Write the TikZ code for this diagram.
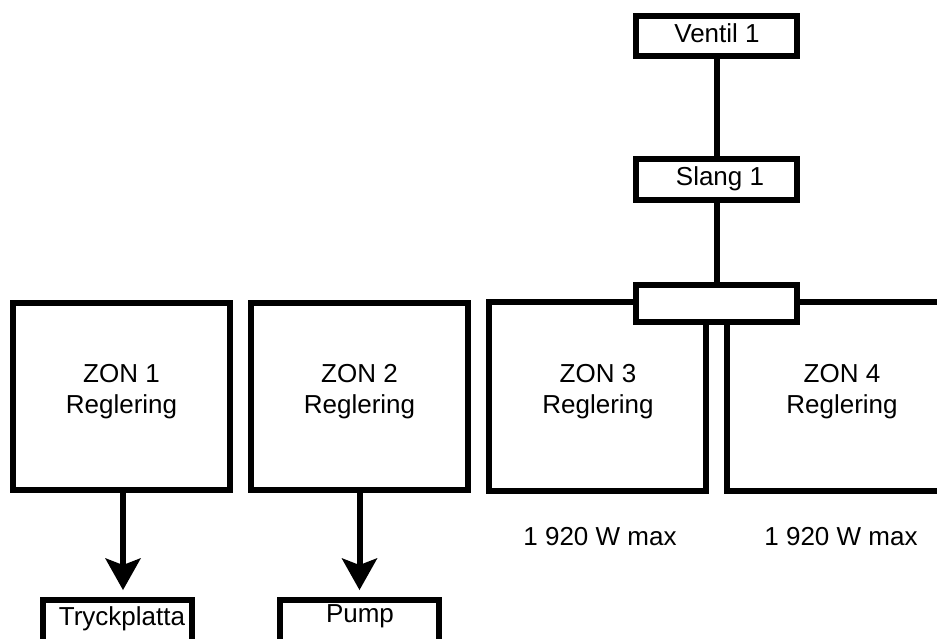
\documentclass[tikz,border=0pt]{standalone}
\usepackage{fontspec}
\setmainfont{Liberation Sans}
\usetikzlibrary{arrows.meta}
\begin{document}
\begin{tikzpicture}[x=1pt,y=-1pt,
  boxst/.style={rectangle, draw=black, line width=6pt, fill=white, inner sep=0pt, outer sep=0pt},
  lbl/.style={font=\fontsize{26}{31}\selectfont, anchor=base, inner sep=0pt, outer sep=0pt},
  conn/.style={line width=6pt},
  arr/.style={line width=6pt, -{Stealth[length=32pt,width=36pt,inset=7pt,line width=0pt]}}]
\useasboundingbox (0,0) rectangle (937,638);
\clip (0,0) rectangle (937,638);
\fill[white] (0,0) rectangle (937,638);
% zone boxes
\node[boxst, minimum width=217pt, minimum height=187pt] (zon1) at (121.5,396.5) {};
\node[boxst, minimum width=217pt, minimum height=187pt] (zon2) at (359.5,396.5) {};
\node[boxst, minimum width=217pt, minimum height=189pt] (zon3) at (597.5,396.5) {};
\node[boxst, minimum width=230pt, minimum height=189pt] (zon4) at (842,396.5) {};
% zone texts
\node[lbl] (z1a) at (121.5,382) {ZON 1};
\node[lbl] (z1b) at (121.5,413) {Reglering};
\node[lbl] (z2a) at (359.5,382) {ZON 2};
\node[lbl] (z2b) at (359.5,413) {Reglering};
\node[lbl] (z3a) at (598,382) {ZON 3};
\node[lbl] (z3b) at (598,413) {Reglering};
\node[lbl] (z4a) at (842,382) {ZON 4};
\node[lbl] (z4b) at (842,413) {Reglering};
% power labels
\node[lbl] (p3) at (600,545) {1 920 W max};
\node[lbl] (p4) at (841,545) {1 920 W max};
% top boxes
\node[boxst, minimum width=161pt, minimum height=40pt] (ventil) at (716.5,36) {};
\node[lbl] (ventilt) at (717,42) {Ventil 1};
\node[boxst, minimum width=161pt, minimum height=41pt] (slang) at (716.5,179.5) {};
\node[lbl] (slangt) at (720,185) {Slang 1};
\node[boxst, minimum width=161pt, minimum height=37pt] (split) at (716.5,303.5) {};
\draw[conn] (ventil.south) -- (slang.north);
\draw[conn] (slang.south) -- (split.north);
% bottom boxes
\node[boxst, minimum width=149pt, minimum height=60pt] (tryck) at (117.5,630) {};
\node[lbl] (tryckt) at (122,625) {Tryckplatta};
\node[boxst, minimum width=159pt, minimum height=60pt] (pump) at (359.5,630) {};
\node[lbl] (pumpt) at (360,622) {Pump};
% arrows
\draw[arr, shorten >=10pt] ([xshift=1.5pt]zon1.south) -- ([xshift=1.5pt]zon1.south |- tryck.north);
\draw[arr, shorten >=10pt] (zon2.south) -- (zon2.south |- pump.north);
\end{tikzpicture}
\end{document}
